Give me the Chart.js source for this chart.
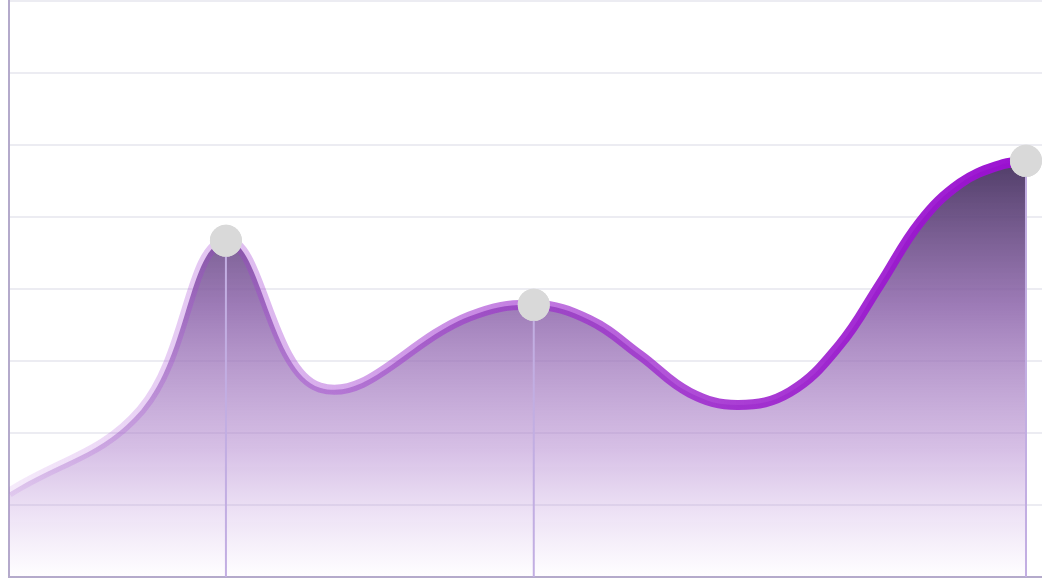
<!DOCTYPE html>
<html lang="en">
<head>
  <meta charset="UTF-8" />
  <title>Area curve</title>
  <script src="https://cdn.jsdelivr.net/npm/chart.js"></script>
  <style>
    body {
      margin: 0;
      background: #ffffff;
    }

    .wrap {
      width: 1042px;
      height: 578px;
    }
  </style>
</head>
<body>

<div class="wrap">
  <canvas id="chart"></canvas>
</div>

<script>
  // data (x 0..100, y 0..80)
  const xValues = [0, 12.8, 21.0, 30.1, 44.6, 50.8, 56.2, 61.1, 65.9, 70.6, 75.6, 80.4, 84.3, 88.2, 92.1, 95.9, 98.45];
  const yValues = [11.7, 23.2, 46.7, 26.3, 36.2, 37.8, 35.7, 30.8, 25.6, 23.9, 25.7, 32.2, 40.6, 49.3, 54.7, 57.2, 57.8];
  const pointSizes = [0, 0, 16, 0, 0, 16, 0, 0, 0, 0, 0, 0, 0, 0, 0, 0, 16];
  const yTicks = [0, 10, 20, 30, 40, 50, 60, 70, 80];

  const points = xValues.map((x, i) => ({ x: x, y: yValues[i] }));

  // vertical gradient for the area
  function fillGradient(context) {
    const area = context.chart.chartArea;
    if (!area) return 'rgba(150,100,190,0.5)';
    const g = context.chart.ctx.createLinearGradient(0, context.chart.scales.y.getPixelForValue(58), 0, area.bottom);
    g.addColorStop(0, 'rgba(70,50,95,0.95)');
    g.addColorStop(0.35, 'rgba(140,100,170,0.85)');
    g.addColorStop(0.7, 'rgba(175,130,205,0.5)');
    g.addColorStop(1, 'rgba(200,160,230,0.02)');
    return g;
  }

  // horizontal gradient for the line, pale on the left
  function lineGradient(context) {
    const area = context.chart.chartArea;
    if (!area) return '#9b1fd0';
    const g = context.chart.ctx.createLinearGradient(area.left, 0, area.right, 0);
    g.addColorStop(0, 'rgba(160,60,210,0.1)');
    g.addColorStop(0.2, 'rgba(160,60,210,0.3)');
    g.addColorStop(0.5, 'rgba(155,40,205,0.6)');
    g.addColorStop(0.7, 'rgba(155,30,205,0.85)');
    g.addColorStop(1, 'rgba(155,15,210,1)');
    return g;
  }

  // drop lines from marked points to the bottom axis
  const dropLines = {
    id: 'dropLines',
    afterDatasetsDraw(chart) {
      const ctx = chart.ctx;
      const meta = chart.getDatasetMeta(0);
      const bottom = chart.chartArea.bottom;
      ctx.save();
      meta.data.forEach((pt, i) => {
        if (!pointSizes[i]) return;
        ctx.strokeStyle = '#c2aee2';
        ctx.lineWidth = 2;
        ctx.beginPath();
        ctx.moveTo(pt.x, pt.y);
        ctx.lineTo(pt.x, bottom);
        ctx.stroke();
        ctx.fillStyle = '#d9d9d9';
        ctx.beginPath();
        ctx.arc(pt.x, pt.y, pointSizes[i], 0, Math.PI * 2);
        ctx.fill();
      });
      ctx.restore();
    }
  };

  new Chart(document.getElementById('chart'), {
    type: 'line',
    data: {
      datasets: [{
        data: points,
        borderColor: lineGradient,
        backgroundColor: fillGradient,
        borderWidth: 10,
        fill: 'start',
        tension: 0.4,
        pointRadius: pointSizes,
        pointBackgroundColor: '#d9d9d9',
        pointBorderWidth: 0,
        pointHoverRadius: pointSizes
      }]
    },
    options: {
      responsive: true,
      maintainAspectRatio: false,
      animation: false,
      layout: { autoPadding: false, padding: { left: 9, top: 1, right: 0, bottom: 1 } },
      plugins: {
        legend: { display: false },
        tooltip: { enabled: false }
      },
      scales: {
        x: {
          type: 'linear',
          min: 0,
          max: 100,
          ticks: { display: false },
          grid: { display: false, drawTicks: false },
          border: { display: true, color: '#b4aacb', width: 2 }
        },
        y: {
          min: yTicks[0],
          max: yTicks[yTicks.length - 1],
          afterBuildTicks: (axis) => { axis.ticks = yTicks.map(v => ({ value: v })); },
          ticks: { display: false },
          grid: { color: '#ececf2', lineWidth: 2, drawTicks: false },
          border: { display: true, color: '#b4aacb', width: 2 }
        }
      }
    },
    plugins: [dropLines]
  });
</script>

</body>
</html>
